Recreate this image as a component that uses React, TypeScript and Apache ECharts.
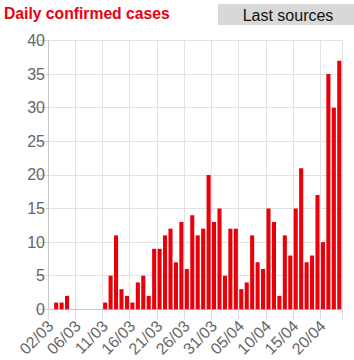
import React, { useEffect, useRef } from "react";
import * as echarts from "echarts";

const dates: string[] = [
  "01/03", "02/03", "03/03", "04/03", "05/03", "06/03", "07/03", "08/03", "09/03", "10/03",
  "11/03", "12/03", "13/03", "14/03", "15/03", "16/03", "17/03", "18/03", "19/03", "20/03",
  "21/03", "22/03", "23/03", "24/03", "25/03", "26/03", "27/03", "28/03", "29/03", "30/03",
  "31/03", "01/04", "02/04", "03/04", "04/04", "05/04", "06/04", "07/04", "08/04", "09/04",
  "10/04", "11/04", "12/04", "13/04", "14/04", "15/04", "16/04", "17/04", "18/04", "19/04",
  "20/04", "21/04", "22/04", "23/04",
];

const dailyCases: number[] = [
  0, 1, 1, 2, 0, 0, 0, 0, 0, 0,
  1, 5, 11, 3, 2, 1, 4, 5, 2, 9,
  9, 11, 12, 7, 13, 6, 14, 11, 12, 20,
  13, 15, 5, 12, 12, 3, 4, 11, 7, 6,
  15, 13, 2, 11, 8, 15, 21, 7, 8, 17,
  10, 35, 30, 37,
];

const tickLabels: string[] = [
  "02/03", "06/03", "11/03", "16/03", "21/03", "26/03", "31/03", "05/04", "10/04", "15/04", "20/04",
];

const yTicks = { min: 0, max: 40, interval: 5 };

export default function App() {
  const ref = useRef<HTMLDivElement>(null);
  useEffect(() => {
    document.body.style.margin = "0";
    if (!ref.current) return;
    const chart = echarts.init(ref.current, null, { renderer: "svg" });
    const font = "'Liberation Sans', Arial, sans-serif";
    chart.setOption({
      animation: false,
      textStyle: { fontFamily: font },
      title: {
        text: "Daily confirmed cases",
        left: 4,
        top: 5,
        padding: 0,
        textStyle: { color: "#e8000b", fontSize: 15.7, fontWeight: "bold", fontFamily: font },
      },
      graphic: [
        {
          type: "group",
          left: 218,
          top: 4,
          children: [
            { type: "rect", shape: { x: 0, y: 0, width: 136, height: 21 }, style: { fill: "#d8d8d8" } },
            {
              type: "text",
              x: 70,
              y: 11,
              style: {
                text: "Last sources",
                fill: "#111",
                font: `16px ${font}`,
                textAlign: "center",
                textVerticalAlign: "middle",
              },
            },
          ],
        },
      ],
      grid: { left: 48, right: 12, top: 40.5, bottom: 50.7 },
      xAxis: {
        type: "category",
        data: dates,
        boundaryGap: true,
        axisLine: { show: true, lineStyle: { color: "#c8c8c8", width: 1 } },
        axisTick: { show: true, interval: 4, length: 10, lineStyle: { color: "#d8d8d8" } },
        splitLine: { show: true, interval: 4, lineStyle: { color: "#e2e2e2" } },
        axisLabel: {
          interval: 4,
          rotate: 45,
          margin: 14,
          color: "#666",
          fontSize: 16,
          fontFamily: font,
          formatter: (_v: string, i: number) => tickLabels[Math.floor(i / 5)] ?? "",
        },
      },
      yAxis: {
        type: "value",
        min: yTicks.min,
        max: yTicks.max,
        interval: yTicks.interval,
        axisLine: { show: true, lineStyle: { color: "#c8c8c8" } },
        axisTick: { show: true, length: 13, lineStyle: { color: "#d8d8d8" } },
        splitLine: { show: true, lineStyle: { color: "#e2e2e2" } },
        axisLabel: { color: "#666", fontSize: 16, margin: 3, fontFamily: font },
      },
      series: [
        {
          type: "bar",
          data: dailyCases,
          barCategoryGap: "25%",
          itemStyle: { color: "#e8000b" },
        },
      ],
    });
    return () => chart.dispose();
  }, []);
  return <div ref={ref} style={{ width: 354, height: 360 }} />;
}
